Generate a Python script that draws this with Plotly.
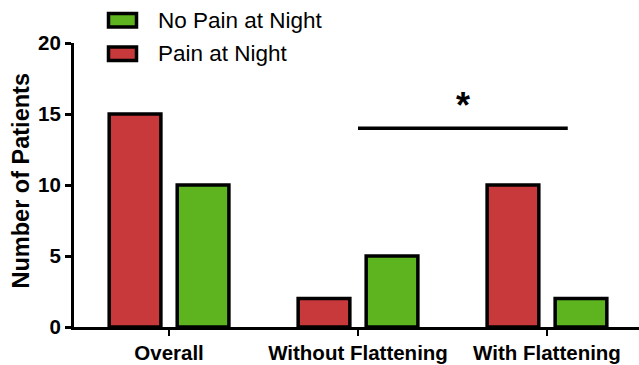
import plotly.graph_objects as go

# Patient counts by group
categories = ["Overall", "Without Flattening", "With Flattening"]
pain_at_night = [15, 2, 10]
no_pain_at_night = [10, 5, 2]

series_names = ["Pain at Night", "No Pain at Night"]
y_ticks = [0, 5, 10, 15, 20]

# Significance bracket between the two flattening groups
sig_x = (1.0, 2.11)
sig_y = 14
sig_label = "*"

RED = "#c8393b"
GREEN = "#5db41f"
FONT = "Liberation Sans, Arial, Helvetica, sans-serif"

fig = go.Figure()
fig.add_trace(go.Bar(
    x=categories, y=pain_at_night, name=series_names[0],
    marker=dict(color=RED, line=dict(color="black", width=3.5)),
))
fig.add_trace(go.Bar(
    x=categories, y=no_pain_at_night, name=series_names[1],
    marker=dict(color=GREEN, line=dict(color="black", width=3.5)),
))

# Plot area in pixels: left 74, right 639, top 43, bottom 327
L, R, T, B = 74, 639, 43, 327
W, H = 639, 365


def px(xp):
    return (xp - L) / (R - L)


def py(yp):
    return (B - yp) / (B - T)


shapes = [
    dict(type="line", xref="x", yref="y", x0=sig_x[0], x1=sig_x[1],
         y0=sig_y, y1=sig_y, line=dict(color="black", width=3.5)),
    # legend keys
    dict(type="rect", xref="paper", yref="paper",
         x0=px(108.5), x1=px(136.5), y0=py(27), y1=py(13.5),
         fillcolor=GREEN, line=dict(color="black", width=3.5)),
    dict(type="rect", xref="paper", yref="paper",
         x0=px(108.5), x1=px(136.5), y0=py(60.5), y1=py(47),
         fillcolor=RED, line=dict(color="black", width=3.5)),
]

annotations = [
    dict(text=sig_label, xref="x", yref="y", x=(sig_x[0] + sig_x[1]) / 2,
         y=sig_y, yanchor="bottom", showarrow=False, yshift=0,
         font=dict(family=FONT, size=36, color="black", weight="bold")),
    dict(text=series_names[1], xref="paper", yref="paper", x=px(156), y=py(20.5),
         xanchor="left", yanchor="middle", showarrow=False,
         font=dict(family=FONT, size=22.5, color="black")),
    dict(text=series_names[0], xref="paper", yref="paper", x=px(156), y=py(53.5),
         xanchor="left", yanchor="middle", showarrow=False,
         font=dict(family=FONT, size=22.5, color="black")),
    dict(text="Number of Patients", xref="paper", yref="paper", x=px(20),
         y=py(181.5), xanchor="center", yanchor="middle", textangle=-90,
         showarrow=False, font=dict(family=FONT, size=23.5, color="black", weight="bold")),
]

fig.update_layout(
    width=W, height=H,
    margin=dict(l=L, r=W - R, t=T, b=H - B, pad=0),
    paper_bgcolor="white", plot_bgcolor="white",
    barmode="group", bargap=0.28, bargroupgap=0.24,
    showlegend=False,
    shapes=shapes, annotations=annotations,
    font=dict(family=FONT, color="black"),
)

fig.update_xaxes(
    type="category", range=[-0.503, 2.487],
    showline=True, linecolor="black", linewidth=2.5,
    ticks="outside", ticklen=6, tickwidth=2, tickcolor="black",
    tickfont=dict(family=FONT, size=20.5, color="black", weight="bold"),
    showgrid=False, zeroline=False, automargin=False,
)
fig.update_yaxes(
    range=[0, 20], tickvals=y_ticks,
    showline=True, linecolor="black", linewidth=3,
    ticks="outside", ticklen=6, tickwidth=2.5, tickcolor="black",
    tickfont=dict(family=FONT, size=20.5, color="black", weight="bold"),
    showgrid=False, zeroline=False, automargin=False,
)

fig.write_html("out.html")
